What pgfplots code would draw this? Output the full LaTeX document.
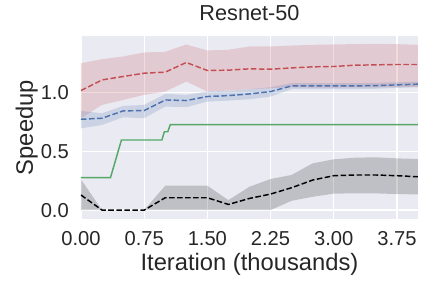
\documentclass[border=0pt]{standalone}
\usepackage{pgfplots}
\pgfplotsset{compat=1.18}
\usepgfplotslibrary{fillbetween}
\usepackage{fontspec}
\setmainfont{Liberation Sans}
\definecolor{sbred}{HTML}{C44E52}
\definecolor{sbblue}{HTML}{4C72B0}
\definecolor{sbgreen}{HTML}{55A868}
\definecolor{sbbg}{HTML}{EAEAF2}
\definecolor{txt}{HTML}{262626}
\begin{document}
\begin{tikzpicture}
\begin{axis}[
  name=ax,
  scale only axis,
  width=242.6bp, height=131.8bp,
  xmin=0, xmax=4.0, ymin=-0.076, ymax=1.478,
  axis background/.style={fill=sbbg},
  axis line style={draw=none},
  major tick length=0pt,
  grid=major,
  major grid style={white, line width=0.9bp},
  xtick={0,0.75,1.5,2.25,3.0,3.75},
  ytick={0,0.5,1.0},
  xticklabel style={/pgf/number format/fixed, /pgf/number format/fixed zerofill, /pgf/number format/precision=2, yshift=-8.4bp},
  yticklabel style={/pgf/number format/fixed, /pgf/number format/fixed zerofill, /pgf/number format/precision=1, xshift=-8.6bp},
  /pgf/number format/assume math mode=true,
  tick label style={font=\fontsize{14.5bp}{16bp}\selectfont, text=txt, inner sep=0pt},
  xlabel={Iteration (thousands)},
  ylabel={Speedup},
  label style={font=\fontsize{17.1bp}{19bp}\selectfont, text=txt},
  xlabel style={at={(axis description cs:0.5,0)}, anchor=base, yshift=-36.7bp},
  ylabel style={at={(axis description cs:-0.1426,0.5)}, anchor=base},
  title={Resnet-50},
  title style={font=\fontsize{15.6bp}{17bp}\selectfont, text=txt, at={(axis description cs:0.5,1)}, anchor=base, yshift=5bp},
  clip=true,
]
% red band
\addplot[name path=ru, draw=none, forget plot] coordinates {
(0,1.247)(0.25,1.281)(0.5,1.304)(0.75,1.338)(1.0,1.344)(1.25,1.406)(1.5,1.355)(1.75,1.361)(2.0,1.389)(2.25,1.389)(2.5,1.397)(2.75,1.403)(3.0,1.406)(3.25,1.409)(3.5,1.412)(3.75,1.409)(4.0,1.403)};
\addplot[name path=rl, draw=none, forget plot] coordinates {
(0,0.780)(0.25,0.893)(0.5,0.935)(0.75,0.978)(1.0,1.006)(1.25,1.091)(1.5,1.006)(1.75,1.015)(2.0,1.026)(2.25,1.035)(2.5,1.043)(2.75,1.040)(3.0,1.040)(3.25,1.042)(3.5,1.042)(3.75,1.045)(4.0,1.045)};
\addplot[sbred, fill opacity=0.2, draw=none, forget plot] fill between[of=ru and rl];
% blue band
\addplot[name path=bu, draw=none, forget plot] coordinates {
(0,0.842)(0.25,0.822)(0.5,0.884)(0.75,0.893)(1.0,0.986)(1.25,0.978)(1.5,1.006)(1.75,1.012)(2.0,1.026)(2.25,1.043)(2.5,1.077)(2.75,1.077)(3.0,1.077)(3.25,1.078)(3.5,1.080)(3.75,1.085)(4.0,1.091)};
\addplot[name path=bl, draw=none, forget plot] coordinates {
(0,0.694)(0.25,0.723)(0.5,0.788)(0.75,0.780)(1.0,0.879)(1.25,0.873)(1.5,0.921)(1.75,0.930)(2.0,0.941)(2.25,0.964)(2.5,1.026)(2.75,1.026)(3.0,1.026)(3.25,1.027)(3.5,1.030)(3.75,1.037)(4.0,1.043)};
\addplot[sbblue, fill opacity=0.2, draw=none, forget plot] fill between[of=bu and bl];
% black band
\addplot[name path=ku, draw=none, forget plot] coordinates {
(0,0.261)(0.25,0.0)(0.5,0.0)(0.75,0.0)(1.0,0.207)(1.25,0.207)(1.5,0.207)(1.75,0.085)(2.0,0.198)(2.25,0.264)(2.5,0.298)(2.75,0.397)(3.0,0.431)(3.25,0.445)(3.5,0.448)(3.75,0.439)(4.0,0.434)};
\addplot[name path=kl, draw=none, forget plot] coordinates {
(0,0.0)(0.25,0.0)(0.5,0.0)(0.75,0.0)(1.0,0.0)(1.25,0.0)(1.5,0.0)(1.75,0.0)(2.0,0.0)(2.25,0.0)(2.5,0.079)(2.75,0.113)(3.0,0.140)(3.25,0.142)(3.5,0.142)(3.75,0.136)(4.0,0.133)};
\addplot[black, fill opacity=0.18, draw=none, forget plot] fill between[of=ku and kl];
% lines
\addplot[sbred, line width=1.05bp, dash pattern=on 4pt off 1.8pt] coordinates {
(0,1.015)(0.25,1.105)(0.5,1.134)(0.75,1.162)(1.0,1.171)(1.25,1.253)(1.5,1.185)(1.75,1.188)(2.0,1.199)(2.25,1.196)(2.5,1.207)(2.75,1.216)(3.0,1.219)(3.25,1.230)(3.5,1.233)(3.75,1.236)(4.0,1.236)};
\addplot[sbblue, line width=1.05bp, dash pattern=on 4pt off 1.8pt] coordinates {
(0,0.771)(0.25,0.780)(0.5,0.842)(0.75,0.845)(1.0,0.935)(1.25,0.930)(1.5,0.964)(1.75,0.972)(2.0,0.986)(2.25,1.006)(2.5,1.054)(2.75,1.054)(3.0,1.054)(3.25,1.054)(3.5,1.057)(3.75,1.063)(4.0,1.069)};
\addplot[sbgreen, line width=1.05bp] coordinates {
(0,0.275)(0.35,0.275)(0.48,0.595)(0.96,0.595)(0.99,0.665)(1.03,0.665)(1.06,0.726)(4.0,0.726)};
\addplot[black, line width=1.05bp, dash pattern=on 4pt off 1.8pt] coordinates {
(0,0.128)(0.25,0.0)(0.5,0.0)(0.75,0.0)(1.0,0.105)(1.25,0.105)(1.5,0.105)(1.75,0.048)(2.0,0.099)(2.25,0.136)(2.5,0.190)(2.75,0.255)(3.0,0.292)(3.25,0.298)(3.5,0.298)(3.75,0.292)(4.0,0.283)};
\end{axis}
\pgfresetboundingbox
\path[use as bounding box] ([xshift=-58.3bp,yshift=-49.7bp]ax.south west) rectangle ([xshift=10.1bp,yshift=25.9bp]ax.north east);
\end{tikzpicture}
\end{document}
